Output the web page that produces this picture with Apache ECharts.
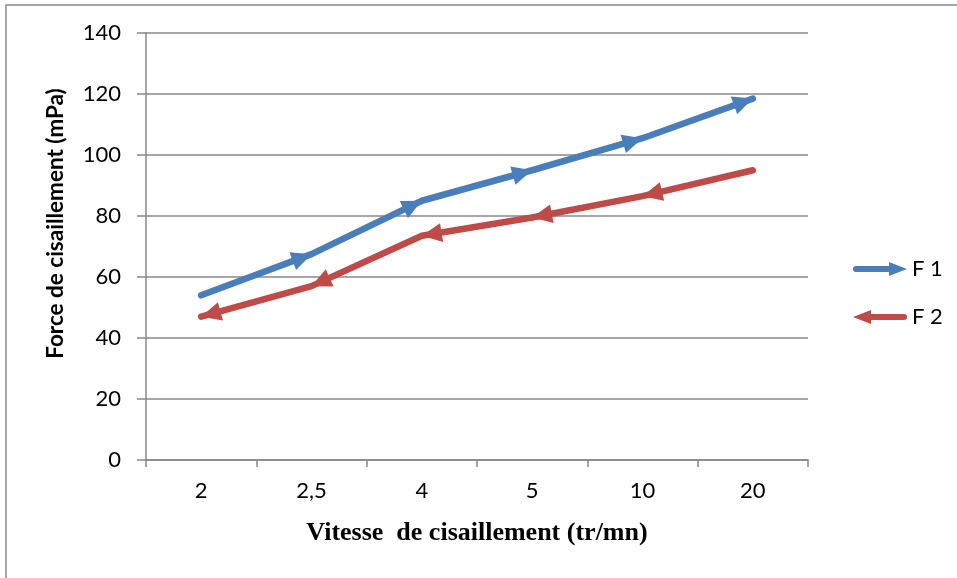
<!DOCTYPE html>
<html>
<head>
<meta charset="utf-8">
<script src="https://cdn.jsdelivr.net/npm/echarts@6/dist/echarts.min.js"></script>
<style>
  html, body { margin: 0; padding: 0; background: #fff; }
  #chart { width: 957px; height: 578px; }
</style>
</head>
<body>
<div id="chart"></div>
<script>
// Shear rate categories (tr/mn) and shear force readings (mPa)
const categories = ['2', '2,5', '4', '5', '10', '20'];
const f1Values = [54, 67.5, 85, 95, 105.5, 118.5];
const f2Values = [47, 57, 73.5, 79.5, 86.5, 95];
const yTicks = { min: 0, max: 140, interval: 20 };

const BLUE = '#4a7ebb';
const RED = '#be4b48';
const GRID = '#888888';

// Arrowhead items: [tipIndex, tipValue, tailIndex, tailValue]
// F 1 points forward (towards the next point), F 2 points backward.
const f1Heads = [];
for (let i = 1; i < f1Values.length; i++) f1Heads.push([i, f1Values[i], i - 1, f1Values[i - 1]]);
const f2Heads = [];
for (let i = 0; i < f2Values.length - 1; i++) f2Heads.push([i, f2Values[i], i + 1, f2Values[i + 1]]);

function arrowHead(params, api) {
  const tip = api.coord([api.value(0), api.value(1)]);
  const tail = api.coord([api.value(2), api.value(3)]);
  const dx = tip[0] - tail[0], dy = tip[1] - tail[1];
  const len = Math.sqrt(dx * dx + dy * dy) || 1;
  const ux = dx / len, uy = dy / len;
  const L = 20, W = 9.5;
  const bx = tip[0] - ux * L, by = tip[1] - uy * L;
  return {
    type: 'polygon',
    shape: { points: [tip, [bx - uy * W, by + ux * W], [bx + uy * W, by - ux * W]] },
    style: { fill: api.visual('color') }
  };
}

const rightArrow = 'path://M3,4 L36,4 L36,0 L54,7 L36,14 L36,10 L3,10 Q0,10 0,7 Q0,4 3,4 Z';
const leftArrow = 'path://M0,7 L18,0 L18,4 L51,4 Q54,4 54,7 Q54,10 51,10 L18,10 L18,14 Z';

const chart = echarts.init(document.getElementById('chart'), null, { renderer: 'canvas' });
chart.setOption({
  animation: false,
  backgroundColor: '#ffffff',
  textStyle: { fontFamily: 'Lato' },
  graphic: [{
    type: 'polyline',
    shape: { points: [[6, 578], [6, 5], [957, 5]] },
    style: { stroke: '#8a8a8a', lineWidth: 1.5, fill: null },
    silent: true
  }],
  grid: { left: 146, right: 149, top: 33, bottom: 118, containLabel: false },
  legend: {
    orient: 'vertical',
    left: 848,
    top: 253,
    itemWidth: 54,
    itemHeight: 16,
    itemGap: 26,
    textStyle: { fontFamily: 'Lato', fontSize: 22, color: '#000' },
    itemStyle: { borderWidth: 0 },
    data: [
      { name: 'F 1', icon: rightArrow },
      { name: 'F 2', icon: leftArrow }
    ]
  },
  xAxis: {
    type: 'category',
    data: categories,
    boundaryGap: true,
    name: 'Vitesse  de cisaillement (tr/mn)',
    nameLocation: 'middle',
    nameGap: 60,
    nameTextStyle: { fontFamily: 'Liberation Serif', fontWeight: 'bold', fontSize: 26, color: '#000' },
    axisLine: { lineStyle: { color: GRID, width: 1.5 } },
    axisTick: { show: true, length: 7, lineStyle: { color: GRID, width: 1.5 } },
    axisLabel: { fontFamily: 'Lato', fontSize: 22, color: '#000', margin: 20 },
    splitLine: { show: false }
  },
  yAxis: {
    type: 'value',
    min: yTicks.min,
    max: yTicks.max,
    interval: yTicks.interval,
    name: 'Force de cisaillement (mPa)',
    nameLocation: 'middle',
    nameRotate: 90,
    nameGap: 79,
    nameTextStyle: { fontFamily: 'Lato', fontWeight: 'bold', fontSize: 22.5, color: '#000', padding: [0, 0, 0, 46] },
    axisLine: { show: true, lineStyle: { color: GRID, width: 1.5 } },
    axisTick: { show: true, length: 9, lineStyle: { color: GRID, width: 1.5 } },
    axisLabel: { fontFamily: 'Lato', fontSize: 22, color: '#000', margin: 25 },
    splitLine: { show: true, lineStyle: { color: GRID, width: 1.5 } }
  },
  series: [
    {
      name: 'F 1',
      type: 'line',
      data: f1Values,
      color: BLUE,
      showSymbol: false,
      symbol: 'none',
      lineStyle: { color: BLUE, width: 6.5, cap: 'round', join: 'round' },
      z: 3
    },
    {
      name: 'F 2',
      type: 'line',
      data: f2Values,
      color: RED,
      showSymbol: false,
      symbol: 'none',
      lineStyle: { color: RED, width: 6.5, cap: 'round', join: 'round' },
      z: 2
    },
    {
      name: 'F 1 heads',
      type: 'custom',
      data: f1Heads,
      color: BLUE,
      encode: { x: 0, y: 1 },
      renderItem: arrowHead,
      silent: true,
      z: 4
    },
    {
      name: 'F 2 heads',
      type: 'custom',
      data: f2Heads,
      color: RED,
      encode: { x: 0, y: 1 },
      renderItem: arrowHead,
      silent: true,
      z: 3
    }
  ]
});
</script>
</body>
</html>
